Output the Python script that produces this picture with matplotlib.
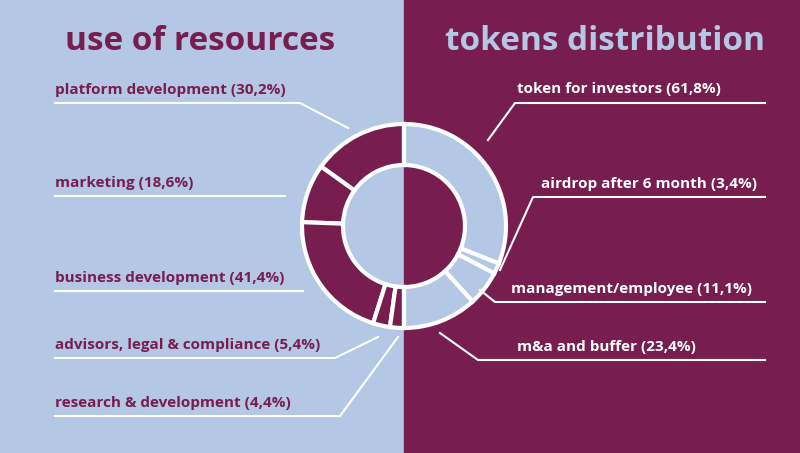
import matplotlib
matplotlib.use("Agg")
import matplotlib.pyplot as plt
from matplotlib.patches import Rectangle

BLUE = "#b4c7e4"
MAROON = "#781d4f"

left_labels = ["platform development (30,2%)", "marketing (18,6%)", "business development (41,4%)",
               "advisors, legal & compliance (5,4%)", "research & development (4,4%)"]
left_vals = [30.2, 18.6, 41.4, 5.4, 4.4]
right_labels = ["token for investors (61,8%)", "airdrop after 6 month (3,4%)",
                "management/employee (11,1%)", "m&a and buffer (23,4%)"]
right_vals = [61.8, 3.4, 11.1, 23.4]

fig = plt.figure(figsize=(8, 4.53), dpi=100)
ax = fig.add_axes([0, 0, 1, 1])
ax.add_patch(Rectangle((0, 0), 404, 453, color=BLUE, zorder=0))
ax.add_patch(Rectangle((404, 0), 396, 453, color=MAROON, zorder=0))

C = (404, 226); R = 102; W = 41
lv = left_vals + [sum(left_vals)]
wl, _ = ax.pie(lv, center=C, radius=R, startangle=-90, counterclock=False,
               colors=[MAROON]*5 + ["none"], wedgeprops=dict(width=W, edgecolor="white", linewidth=3),
               frame=True)
wl[-1].set_edgecolor("none")
rv = right_vals + [sum(right_vals)]
wr, _ = ax.pie(rv, center=C, radius=R, startangle=-90, counterclock=True,
               colors=[BLUE]*4 + ["none"], wedgeprops=dict(width=W, edgecolor="white", linewidth=3),
               frame=True)
wr[-1].set_edgecolor("none")
ax.set_xlim(0, 800); ax.set_ylim(453, 0); ax.set_aspect("equal"); ax.axis("off")
ax.plot([404, 404], [C[1]-R, C[1]-R+W], color="white", lw=3)
ax.plot([404, 404], [C[1]+R-W, C[1]+R], color="white", lw=3)

fs = 11
font = "Open Sans"
ax.text(200, 42, "use of resources", color=MAROON, fontsize=24, fontweight="bold",
        ha="center", va="center", family=font)
ax.text(605, 42, "tokens distribution", color=BLUE, fontsize=24, fontweight="bold",
        ha="center", va="center", family=font)

lw = 1.5
left_pos = [(90, [(55, 103), (300, 103), (348, 128)]),
            (183, [(55, 196), (285, 196)]),
            (278, [(55, 291), (303, 291)]),
            (345, [(55, 358), (335, 358), (378, 337)]),
            (403, [(55, 416), (340, 416), (398, 337)])]
for lab, (y, pts) in zip(left_labels, left_pos):
    ax.text(55, y, lab, color=MAROON, fontsize=fs, fontweight="bold", va="center", family=font)
    ax.plot([p[0] for p in pts], [p[1] for p in pts], color="white", lw=lw)

right_pos = [(517, 89, [(488, 140), (515, 103), (765, 103)]),
             (541, 184, [(500, 270), (533, 197), (765, 197)]),
             (511, 289, [(480, 290), (495, 302), (765, 302)]),
             (517, 347, [(440, 333), (478, 360), (765, 360)])]
for lab, (x, y, pts) in zip(right_labels, right_pos):
    ax.text(x, y, lab, color="white", fontsize=fs, fontweight="bold", va="center", family=font)
    ax.plot([p[0] for p in pts], [p[1] for p in pts], color="white", lw=lw)

fig.savefig("out.png", dpi=100)
